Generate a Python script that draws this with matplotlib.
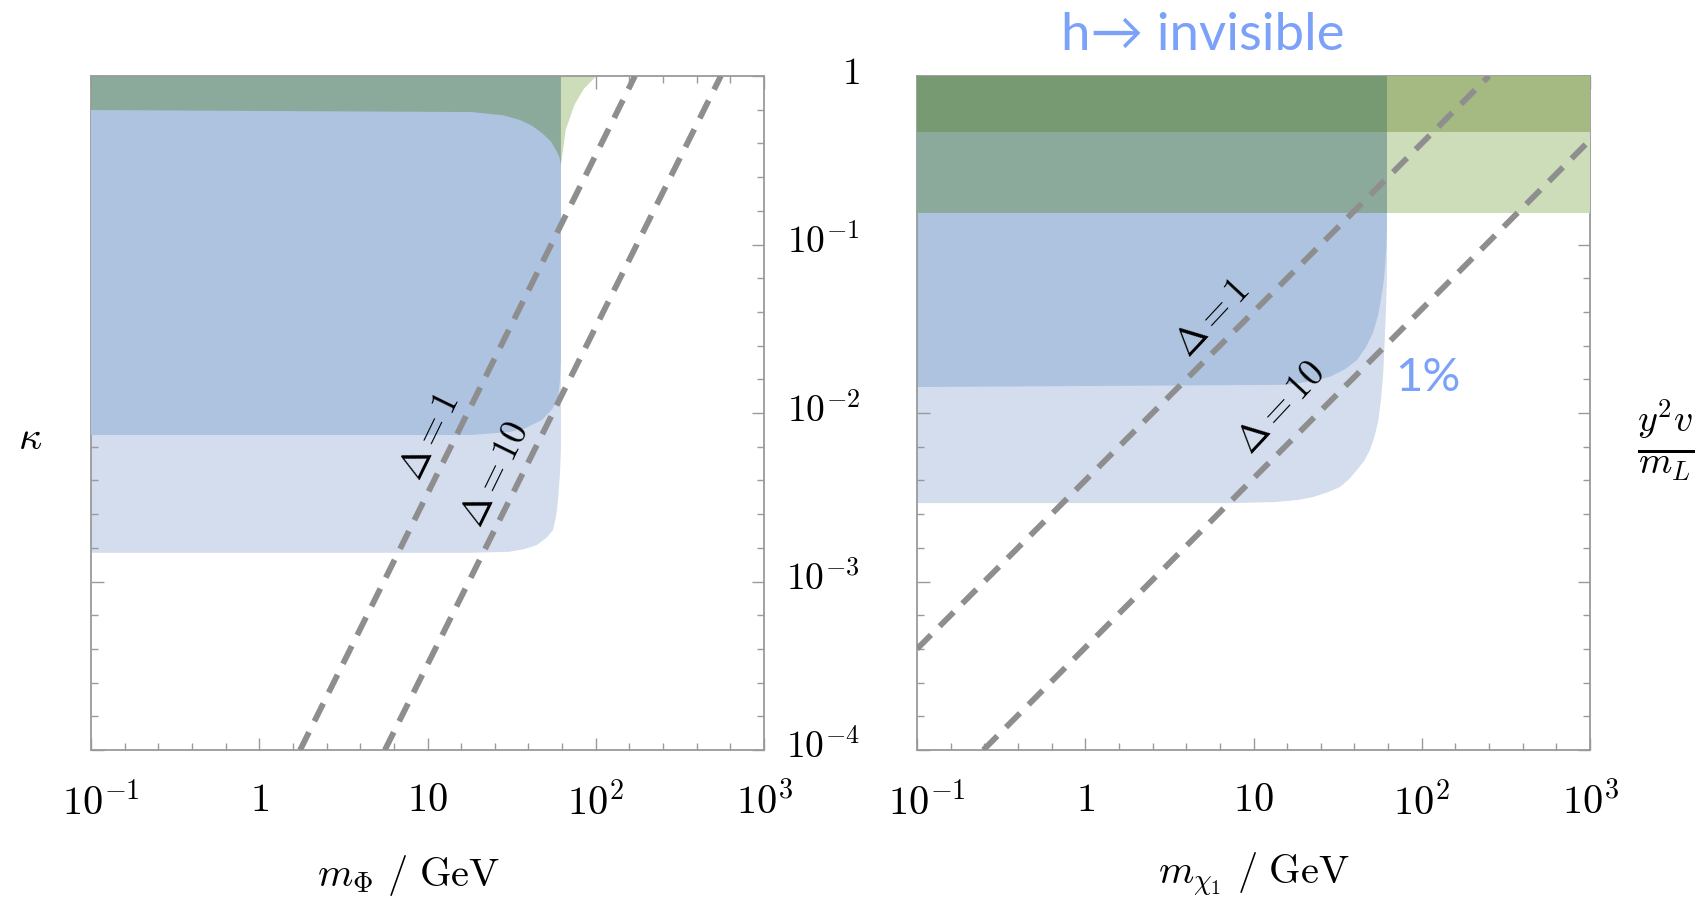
import numpy as np
import matplotlib
matplotlib.use('Agg')
import matplotlib.pyplot as plt
import matplotlib.transforms as mtransforms
from matplotlib.ticker import FixedLocator, NullFormatter

plt.rcParams['mathtext.fontset'] = 'cm'
plt.rcParams['font.family'] = ['DejaVu Serif']

# ---------------- data ----------------
xticks = [0.1, 1, 10, 100, 1000]
xtick_labels = [r'$10^{-1}$', r'$1$', r'$10$', r'$10^{2}$', r'$10^{3}$']
yticks = [1e-4, 1e-3, 1e-2, 1e-1, 1]
ytick_labels = [r'$10^{-4}$', r'$10^{-3}$', r'$10^{-2}$', r'$10^{-1}$', r'$1$']

# left panel (kappa vs m_Phi)
left_light_m = [0.1, 18, 30.5, 38, 44.8, 51, 55.7, 58.2, 59.7, 61.2, 62.1, 62.1, 0.1]
left_light_k = [1.48e-3, 1.48e-3, 1.50e-3, 1.56e-3, 1.65e-3, 1.82e-3, 2.02e-3, 2.45e-3,
                3.05e-3, 4.3e-3, 6.0e-3, 1.0, 1.0]
left_med_m = [0.1, 18.2, 28, 35.5, 42, 47.9, 54, 58.0, 60.8, 62.1, 62.1, 61.3, 59.7, 55,
              47.9, 38, 30.5, 18.2, 0.1]
left_med_k = [0.628, 0.611, 0.585, 0.548, 0.505, 0.459, 0.41, 0.364, 0.33, 0.296, 2.06e-2,
              1.55e-2, 1.24e-2, 1.05e-2, 9.1e-3, 8.1e-3, 7.71e-3, 7.4e-3, 7.4e-3]
left_green_m = [0.1, 62.1, 62.1, 0.1]
left_green_k = [0.29, 0.29, 1.0, 1.0]
left_sliver_m = [62.1, 66.3, 74.6, 85, 99.6, 101, 62.1]
left_sliver_k = [0.296, 0.479, 0.673, 0.84, 0.986, 1.0, 1.0]

# right panel (y^2 v / m_L vs m_chi1)
right_light_m = [0.1, 7.35, 13.4, 18.5, 22.6, 27.5, 32.7, 37, 41.2, 45.5, 49.2, 52.5,
                 55.2, 57.2, 59.0, 60.5, 61.5, 62.1, 62.1, 0.1]
right_light_k = [2.92e-3, 2.92e-3, 2.96e-3, 3.05e-3, 3.17e-3, 3.38e-3, 3.64e-3, 4.05e-3,
                 4.59e-3, 5.2e-3, 6.03e-3, 7.3e-3, 9.0e-3, 1.19e-2, 1.7e-2, 2.99e-2,
                 4.5e-2, 6.2e-2, 1.0, 1.0]
right_med_m = [0.1, 15.6, 22, 28.5, 35, 41.2, 46.5, 51.3, 55, 57.2, 59.2, 60.5, 61.5,
               62.1, 62.1, 0.1]
right_med_k = [1.426e-2, 1.47e-2, 1.54e-2, 1.64e-2, 1.82e-2, 2.06e-2, 2.45e-2, 2.99e-2,
               3.8e-2, 4.69e-2, 5.9e-2, 7.35e-2, 9.3e-2, 0.117, 1.0, 1.0]
band_lo = [0.154, 0.466]
band_hi = [0.466, 1.0]
m_split = 62.1

# Delta lines: ([m_start, m_end], [y_start, y_end])
left_delta1 = ([1.75, 171.0], [1e-4, 1.0])
left_delta10 = ([5.58, 554.0], [1e-4, 1.0])
right_delta1 = ([0.1, 251.0], [3.98e-4, 1.0])
right_delta10 = ([0.248, 1000.0], [1e-4, 0.417])

# ---------------- style ----------------
c_light = '#d3ddee'
c_med = '#adc3e0'
c_greygreen = '#8caa9b'
c_lightgreen = '#cddcb9'
c_darkgreen = '#789a73'
c_olive = '#a5b983'
c_dash = '#8e8e8e'
c_text = '#7ba2f8'
c_frame = '#9a9a9a'

fig = plt.figure(figsize=(17.05, 9.02), dpi=100)
axL = fig.add_axes([91/1705, 1-750/902, 673/1705, 674/902])
axR = fig.add_axes([917/1705, 1-750/902, 673/1705, 674/902])

minor_pos = [10**(k/5) for k in range(-25, 20)]

for ax in (axL, axR):
    ax.set_xscale('log')
    ax.set_yscale('log')
    ax.set_xlim(0.1, 1000)
    ax.set_ylim(1e-4, 1)
    ax.xaxis.set_major_locator(FixedLocator(xticks))
    ax.yaxis.set_major_locator(FixedLocator(yticks))
    ax.xaxis.set_minor_locator(FixedLocator(minor_pos))
    ax.yaxis.set_minor_locator(FixedLocator(minor_pos))
    ax.xaxis.set_minor_formatter(NullFormatter())
    ax.yaxis.set_minor_formatter(NullFormatter())
    ax.tick_params(which='both', direction='in', top=True, right=True, color=c_frame, width=1)
    ax.tick_params(which='major', length=9)
    ax.tick_params(which='minor', length=5)
    ax.set_xticklabels(xtick_labels, fontsize=29)
    ax.tick_params(axis='x', which='major', pad=23)
    for s in ax.spines.values():
        s.set_color(c_frame)
        s.set_linewidth(1.3)
    # nudge the 10^-1 label a little to the right
    lab0 = ax.get_xticklabels()[0]
    lab0.set_transform(lab0.get_transform() +
                       mtransforms.ScaledTranslation(0.10, 0, fig.dpi_scale_trans))

# left panel regions
axL.fill(left_light_m, left_light_k, color=c_light, lw=0, zorder=1)
axL.fill(left_green_m, left_green_k, color=c_greygreen, lw=0, zorder=2)
axL.fill(left_sliver_m, left_sliver_k, color=c_lightgreen, lw=0, zorder=2)
axL.fill(left_med_m, left_med_k, color=c_med, lw=0, zorder=3)
axL.set_yticklabels([])

# right panel regions
axR.fill(right_light_m, right_light_k, color=c_light, lw=0, zorder=1)
axR.fill(right_med_m, right_med_k, color=c_med, lw=0, zorder=2)
left_cols = [c_greygreen, c_darkgreen]
right_cols = [c_lightgreen, c_olive]
for lo, hi, cl, cr in zip(band_lo, band_hi, left_cols, right_cols):
    axR.fill([0.1, m_split, m_split, 0.1], [lo, lo, hi, hi], color=cl, lw=0, zorder=3)
    axR.fill([m_split, 1000, 1000, m_split], [lo, lo, hi, hi], color=cr, lw=0, zorder=3)
axR.set_yticklabels(ytick_labels, fontsize=27)
axR.tick_params(axis='y', which='major', pad=41)
for lab in axR.get_yticklabels():
    lab.set_transform(lab.get_transform() +
                      mtransforms.ScaledTranslation(0, 0.06, fig.dpi_scale_trans))

# dashed lines
for ax, lines in ((axL, (left_delta1, left_delta10)), (axR, (right_delta1, right_delta10))):
    for xs, ys in lines:
        ax.plot(xs, ys, color=c_dash, lw=4.2, dashes=(3.4, 2.1), zorder=5,
                dash_capstyle='butt')

# Delta labels
axL.text(10.4, 7.2e-3, r'$\Delta = 1$', rotation=64, fontsize=27, ha='center', va='center',
         rotation_mode='anchor', zorder=6)
axL.text(25.5, 4.29e-3, r'$\Delta = 10$', rotation=64, fontsize=27, ha='center', va='center',
         rotation_mode='anchor', zorder=6)
axR.text(5.66, 0.0366, r'$\Delta = 1$', rotation=47, fontsize=27, ha='center', va='center',
         rotation_mode='anchor', zorder=6)
axR.text(14.6, 0.0107, r'$\Delta = 10$', rotation=47, fontsize=27, ha='center', va='center',
         rotation_mode='anchor', zorder=6)

# axis labels
axL.set_xlabel(r'$m_{\Phi}\ /\ \mathrm{GeV}$', fontsize=29)
axR.set_xlabel(r'$m_{\chi_1}\ /\ \mathrm{GeV}$', fontsize=29)
axL.xaxis.set_label_coords((376 - 84) / 619, -(805 - 690) / 620)
axR.xaxis.set_label_coords(0.5, -(805 - 690) / 620)
axL.xaxis.label.set_va('center')
axR.xaxis.label.set_va('center')
fig.text(30/1705, 1-438/902, r'$\kappa$', fontsize=29, ha='center', va='center')
fig.text(1666/1705, 1-440/902, r'$\frac{y^2 v}{m_L}$', fontsize=39, ha='center', va='center')

# annotations
fig.text(1203/1705, 1-35/902, 'h\u2192 invisible', fontsize=38, color=c_text,
         ha='center', va='center', family=['Lato', 'DejaVu Sans'])
axR.text(1428/1705, 1-378/902, '1%', transform=fig.transFigure, fontsize=34, color=c_text,
         ha='center', va='center', family=['Lato', 'DejaVu Sans'], zorder=7)

fig.savefig('out.png', dpi=100)
